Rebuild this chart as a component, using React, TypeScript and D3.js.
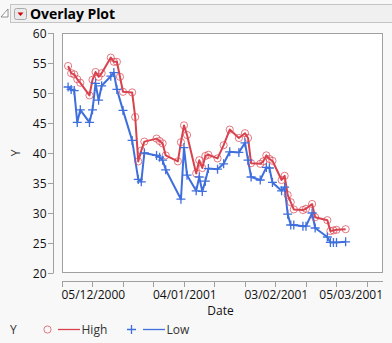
import React from "react";
import * as d3 from "d3";

// ---- data ----
const dates: string[] = [
  "2000-12-07","2000-12-08","2000-12-09","2000-12-10","2000-12-11",
  "2000-12-14","2000-12-15","2000-12-16","2000-12-17","2000-12-18",
  "2000-12-21","2000-12-22","2000-12-23","2000-12-24","2000-12-25",
  "2000-12-28","2000-12-29","2000-12-30","2000-12-31","2001-01-01",
  "2001-01-05","2001-01-06","2001-01-07","2001-01-08",
  "2001-01-12","2001-01-13","2001-01-14","2001-01-15",
  "2001-01-18","2001-01-19","2001-01-20","2001-01-21","2001-01-22",
  "2001-01-25","2001-01-27","2001-01-29",
  "2001-02-01","2001-02-03","2001-02-04","2001-02-05",
  "2001-02-08","2001-02-09","2001-02-10","2001-02-11","2001-02-12",
  "2001-02-15","2001-02-16","2001-02-17","2001-02-18","2001-02-19",
  "2001-02-22","2001-02-23","2001-02-25","2001-02-26",
  "2001-03-02","2001-03-03","2001-03-04","2001-03-05","2001-03-08",
];

const highValues: (number | null)[] = [
  54.5, 53.3, 53.1, 52.3, 51.7,
  49.6, 52.2, 53.5, 52.7, 53.3,
  55.9, 55.2, 55.2, 52.7, 50.2,
  50.1, 46.0, 38.6, 40.4, 41.9,
  42.4, 42.0, 41.6, 39.6,
  38.6, 41.8, 44.6, 43.0,
  36.6, 38.8, 37.5, 39.5, 39.7,
  39.1, 41.3, 43.9,
  42.5, 43.3, 42.5, 38.3,
  38.2, 38.6, 39.6, 39.0, 38.7,
  35.5, 36.2, 33.0, 31.8, 30.6,
  30.5, 30.7, 31.5, 29.3,
  28.8, 27.0, 27.1, 27.2, 27.3,
];

const lowValues: (number | null)[] = [
  51.0, 50.6, 50.4, 45.1, 47.2,
  45.1, 47.2, 51.6, 48.8, 51.2,
  52.8, 53.4, 50.6, null, 47.1,
  42.1, null, 35.6, 35.2, 40.0,
  39.6, 39.3, 38.8, 37.2,
  null, 32.3, 40.9, 36.3,
  33.7, 36.0, 33.6, 35.3, 37.4,
  37.3, 38.2, 40.2,
  40.1, 41.7, 38.8, 36.0,
  35.5, null, 37.6, 37.5, 35.1,
  33.7, 34.3, 29.8, 28.0, 28.0,
  27.8, 27.8, 30.0, 27.5,
  26.0, 25.1, 25.1, 25.1, 25.2,
];

const yTicks: number[] = [20, 25, 30, 35, 40, 45, 50, 55, 60];
const xTickDates: string[] = [
  "2000-12-05","2000-12-15","2000-12-25","2001-01-04","2001-01-14","2001-01-24",
  "2001-02-03","2001-02-13","2001-02-23","2001-03-05","2001-03-15",
];
const xLabelDates: string[] = ["2000-12-05", "2001-01-04", "2001-02-03", "2001-03-05"];
const xDomain: string[] = ["2000-12-05T00:00:00Z", "2001-03-20T06:00:00Z"];
const yDomain: number[] = [20, 60];

const title = "Overlay Plot";
const xTitle = "Date";
const yTitle = "Y";
const seriesNames = ["High", "Low"];

const RED = "#d8424f";
const BLUE = "#3f6fdc";
const FONT = "'Open Sans', 'Noto Sans', sans-serif";

const parse = (s: string) => new Date(s.length === 10 ? s + "T00:00:00Z" : s);

export default function App() {
  const left = 62, right = 383, top = 33, bottom = 273;
  const x = d3.scaleUtc().domain(xDomain.map(parse)).range([left, right]);
  const y = d3.scaleLinear().domain(yDomain).range([bottom, top]);
  const fmt = d3.utcFormat("%d/%m/%Y");

  const pts = (vals: (number | null)[]) =>
    dates
      .map((d, i) => ({ d: parse(d), v: vals[i] }))
      .filter((p) => p.v !== null) as { d: Date; v: number }[];
  const hi = pts(highValues);
  const lo = pts(lowValues);
  const line = d3
    .line<{ d: Date; v: number }>()
    .x((p) => x(p.d))
    .y((p) => y(p.v));

  const axisY = 281;
  const yAxisX = 53.5;

  return (
    <svg
      width={392}
      height={343}
      style={{ position: "fixed", left: 0, top: 0, background: "#f8f8f8" }}
      fontFamily={FONT}
    >
      <rect x={0} y={0} width={392} height={343} fill="#f8f8f8" />
      {/* header */}
      <path d="M1,17 L8,9 L8,17 Z" fill="#fff" stroke="#777" strokeWidth={0.8} />
      <rect x={10.5} y={4.5} width={390} height={18} fill="#f0f0f0" stroke="#c4c4c4" />
      <rect x={14.5} y={8.5} width={12} height={11} rx={2} fill="#e9e9e9" stroke="#a9a9a9" />
      <path d="M17.5,12.5 L23.5,12.5 L20.5,16 Z" fill="#d40000" />
      <text x={30} y={19} fontSize={14} fontWeight="bold" fill="#000" textLength={85}>
        {title}
      </text>

      {/* plot frame */}
      <rect x={left + 0.5} y={top + 0.5} width={right - left - 1} height={bottom - top - 1} fill="#fff" stroke="#a0a0a0" />

      {/* y axis */}
      <line x1={yAxisX} x2={yAxisX} y1={y(yDomain[0])} y2={y(yDomain[1])} stroke="#a0a0a0" />
      {yTicks.map((t) => (
        <g key={t}>
          <line x1={48} x2={yAxisX} y1={Math.round(y(t)) + 0.5} y2={Math.round(y(t)) + 0.5} stroke="#a0a0a0" />
          <text x={46.5} y={y(t) + 4.5} fontSize={12} textAnchor="end" fill="#111">
            {t}
          </text>
        </g>
      ))}
      <text
        transform={`translate(20,${(top + bottom) / 2}) rotate(-90)`}
        fontSize={12}
        textAnchor="middle"
        fill="#333"
      >
        {yTitle}
      </text>

      {/* x axis */}
      <line x1={left} x2={right} y1={axisY + 0.5} y2={axisY + 0.5} stroke="#a0a0a0" />
      {xTickDates.map((s) => {
        const xv = Math.round(x(parse(s))) + 0.5;
        return <line key={s} x1={xv} x2={xv} y1={axisY} y2={axisY + 6} stroke="#a0a0a0" />;
      })}
      {xLabelDates.map((s, i) => {
        const xv = x(parse(s));
        const last = i === xLabelDates.length - 1;
        return (
          <text
            key={s}
            x={last ? right : xv - 0.5}
            y={298.5}
            fontSize={12}
            textAnchor={last ? "end" : "start"}
            fill="#111"
          >
            {fmt(parse(s))}
          </text>
        );
      })}
      <text x={(left + right) / 2 - 2} y={315} fontSize={12} textAnchor="middle" fill="#111">
        {xTitle}
      </text>

      {/* series */}
      <g clipPath="none">
        <path d={line(hi) || ""} fill="none" stroke={RED} strokeWidth={2} strokeLinejoin="round" />
        <path d={line(lo) || ""} fill="none" stroke={BLUE} strokeWidth={2} strokeLinejoin="round" />
        {hi.map((p, i) => (
          <circle key={"h" + i} cx={x(p.d)} cy={y(p.v)} r={3.6} fill="none" stroke={RED} strokeOpacity={0.7} strokeWidth={1} />
        ))}
        {lo.map((p, i) => {
          const cx = x(p.d), cy = y(p.v);
          return (
            <path
              key={"l" + i}
              d={`M${cx - 4.5},${cy}H${cx + 4.5}M${cx},${cy - 4.5}V${cy + 4.5}`}
              stroke={BLUE}
              strokeWidth={1.3}
            />
          );
        })}
      </g>

      {/* legend */}
      <text x={10} y={333.5} fontSize={12} fill="#333">
        {yTitle}
      </text>
      <circle cx={47.5} cy={329.5} r={3.6} fill="none" stroke={RED} strokeOpacity={0.7} />
      <line x1={58} x2={80} y1={329.5} y2={329.5} stroke={RED} strokeWidth={1.3} />
      <text x={81.5} y={333.8} fontSize={12} fill="#333">
        {seriesNames[0]}
      </text>
      <path d="M127,329.5H136M131.5,325V334" stroke={BLUE} strokeWidth={1.3} />
      <line x1={143} x2={165} y1={329.5} y2={329.5} stroke={BLUE} strokeWidth={1.3} />
      <text x={166.5} y={333.8} fontSize={12} fill="#333">
        {seriesNames[1]}
      </text>
    </svg>
  );
}
